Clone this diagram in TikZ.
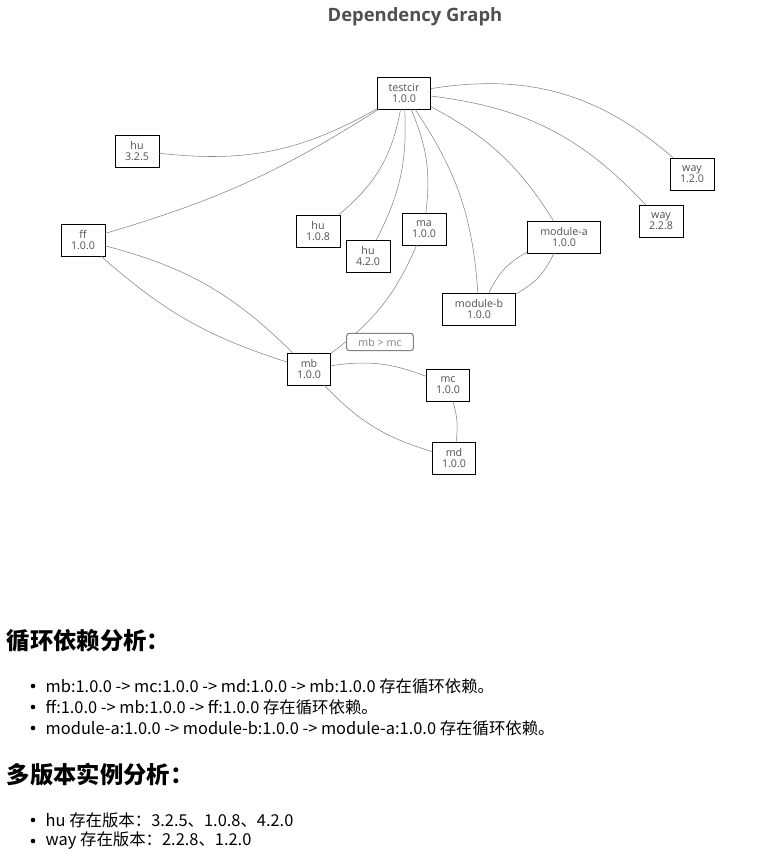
\documentclass[tikz,border=0pt]{standalone}
\usepackage{fontspec}
\setmainfont{Open Sans}
\newfontfamily\cjk{Noto Sans CJK SC}
\usetikzlibrary{positioning}
\definecolor{edgeGray}{RGB}{130,130,130}
\definecolor{titleGray}{RGB}{80,80,80}
\tikzstyle{pkg} = [draw=black, fill=white, align=center, inner sep=0pt, minimum height=24pt, font=\fontsize{8}{8}\selectfont, text=titleGray]
\tikzstyle{dep} = [draw=edgeGray, thin]
\tikzstyle{heading} = [anchor=west, font=\cjk\bfseries\fontsize{17.5}{17.5}\selectfont]
\tikzstyle{item} = [anchor=west, font=\cjk\fontsize{12.3}{12.3}\selectfont]
\newcommand{\bulletItem}[3]{\fill (33,#2) circle (2.3); \node [item] (#1) at (41,#2) {#3};}
\begin{document}
\begin{tikzpicture}[x=0.75pt, y=-0.75pt]
\useasboundingbox (0,0) rectangle (777,865);
\node [font=\bfseries\fontsize{13.8}{13.8}\selectfont, text=titleGray] (title) at (415,17) {Dependency Graph};
% packages
\node [pkg, minimum width=40pt] (testcir) at (404,93) {testcir\\1.0.0};
\node [pkg, minimum width=33pt] (huA) at (137,151) {hu\\3.2.5};
\node [pkg, minimum width=33pt] (ff) at (83,240) {ff\\1.0.0};
\node [pkg, minimum width=33pt] (huB) at (318,231) {hu\\1.0.8};
\node [pkg, minimum width=33pt] (huC) at (368,256) {hu\\4.2.0};
\node [pkg, minimum width=33pt] (ma) at (424,229) {ma\\1.0.0};
\node [pkg, minimum width=55pt] (moda) at (564,237) {module-a\\1.0.0};
\node [pkg, minimum width=55pt] (modb) at (479,309) {module-b\\1.0.0};
\node [pkg, minimum width=33pt] (wayA) at (692,174) {way\\1.2.0};
\node [pkg, minimum width=33pt] (wayB) at (661,221) {way\\2.2.8};
\node [pkg, minimum width=32pt] (mb) at (309,369) {mb\\1.0.0};
\node [pkg, minimum width=32pt] (mc) at (448,385) {mc\\1.0.0};
\node [pkg, minimum width=32pt] (md) at (454,458) {md\\1.0.0};
% dependencies
\draw [dep] (testcir) to[bend left=18] (huA);
\draw [dep] (testcir) to[bend left=8] (ff);
\draw [dep] (testcir) to[bend left=20] (huB);
\draw [dep] (testcir) to[bend left=15] (huC);
\draw [dep] (testcir) to[bend left=15] (ma);
\draw [dep] (testcir) to[bend left=15] (modb);
\draw [dep] (testcir) to[bend left=15] (moda);
\draw [dep] (testcir) to[bend left=20] (wayB);
\draw [dep] (testcir) to[bend left=25] (wayA);
\draw [dep] (ff) to[bend left=15] (mb);
\draw [dep] (ff) to[bend right=12] (mb);
\draw [dep] (ma) to[bend left=15] (mb);
\draw [dep] (mb) to[bend left=15] (mc);
\draw [dep] (mc) to[bend left=12] (md);
\draw [dep] (md) to[bend left=15] (mb);
\draw [dep] (moda) to[bend right=18] (modb);
\draw [dep] (moda) to[bend left=18] (modb);
\node [draw=edgeGray, fill=white, rounded corners=2pt, thick, text=edgeGray, font=\fontsize{8}{8}\selectfont, minimum width=50pt, minimum height=13pt, inner sep=1pt] (cycle) at (380,342) {mb > mc};
% analysis
\node [heading] (cycHead) at (2,641) {循环依赖分析：};
\bulletItem{cycA}{686}{mb:1.0.0 -> mc:1.0.0 -> md:1.0.0 -> mb:1.0.0 存在循环依赖。}
\bulletItem{cycB}{707}{ff:1.0.0 -> mb:1.0.0 -> ff:1.0.0 存在循环依赖。}
\bulletItem{cycC}{728}{module-a:1.0.0 -> module-b:1.0.0 -> module-a:1.0.0 存在循环依赖。}
\node [heading] (verHead) at (2,775) {多版本实例分析：};
\bulletItem{verA}{820}{hu 存在版本：3.2.5、1.0.8、4.2.0}
\bulletItem{verB}{841}{way 存在版本：2.2.8、1.2.0}
\end{tikzpicture}
\end{document}
